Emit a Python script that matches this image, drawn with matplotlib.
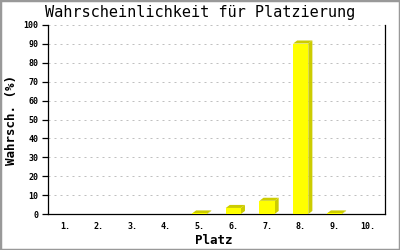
import matplotlib.pyplot as plt
from matplotlib.patches import Polygon, Rectangle

# Data
places = ["1.", "2.", "3.", "4.", "5.", "6.", "7.", "8.", "9.", "10."]
probs = [0, 0, 0, 0, 0.3, 3.2, 7.0, 90.2, 0.3, 0]
yticks = [0, 10, 20, 30, 40, 50, 60, 70, 80, 90, 100]

front = "#ffff00"
shade = "#cccc00"
mono = "DejaVu Sans Mono"

fig = plt.figure(figsize=(4, 2.5), dpi=100)
ax = fig.add_axes([0.12, 0.144, 0.8425, 0.756])

x = list(range(len(places)))
width = 0.45
dx = 0.12   # depth offset in x (data units)
dy = 1.6    # depth offset in y (data units)

for xi, v in zip(x, probs):
    if v <= 0:
        continue
    x0 = xi - width / 2
    x1 = xi + width / 2
    # side face
    ax.add_patch(Polygon([(x1, 0), (x1 + dx, dy), (x1 + dx, v + dy), (x1, v)],
                         closed=True, facecolor=shade, edgecolor="none", zorder=3))
    # top face
    ax.add_patch(Polygon([(x0, v), (x0 + dx, v + dy), (x1 + dx, v + dy), (x1, v)],
                         closed=True, facecolor=shade, edgecolor="none", zorder=3))

ax.bar(x, probs, width=width, color=front, edgecolor="none", zorder=4)

ax.set_xlim(-0.5, len(places) - 0.5)
ax.set_ylim(0, 100)
ax.set_xticks(x)
ax.set_xticklabels(places, fontfamily=mono, fontsize=6, fontweight="bold")
ax.set_yticks(yticks)
ax.set_yticklabels([str(t) for t in yticks], fontfamily=mono, fontsize=6, fontweight="bold")
ax.tick_params(axis="x", length=0, pad=6)
ax.tick_params(axis="y", length=4, width=0.9, pad=3)

ax.yaxis.grid(True, color="#c0c0c0", linewidth=0.72, linestyle=(0, (2, 4)), zorder=0)
ax.set_axisbelow(True)

ax.spines["top"].set_visible(False)
for s in ["left", "bottom", "right"]:
    ax.spines[s].set_linewidth(0.9)
    ax.spines[s].set_color("black")

fig.text(0.5, 0.948, "Wahrscheinlichkeit für Platzierung", ha="center", va="center",
         fontfamily=mono, fontsize=11)
fig.text(0.535, 0.04, "Platz", ha="center", va="center",
         fontfamily=mono, fontsize=9, fontweight="bold")
fig.text(0.03, 0.52, "Wahrsch. (%)", ha="center", va="center", rotation=90,
         fontfamily=mono, fontsize=9, fontweight="bold")

# grey frame around the image
fig.patches.append(Rectangle((0, 0), 1, 1, transform=fig.transFigure, fill=False,
                             edgecolor="#999999", linewidth=2.5))

fig.savefig("out.png", dpi=100)
